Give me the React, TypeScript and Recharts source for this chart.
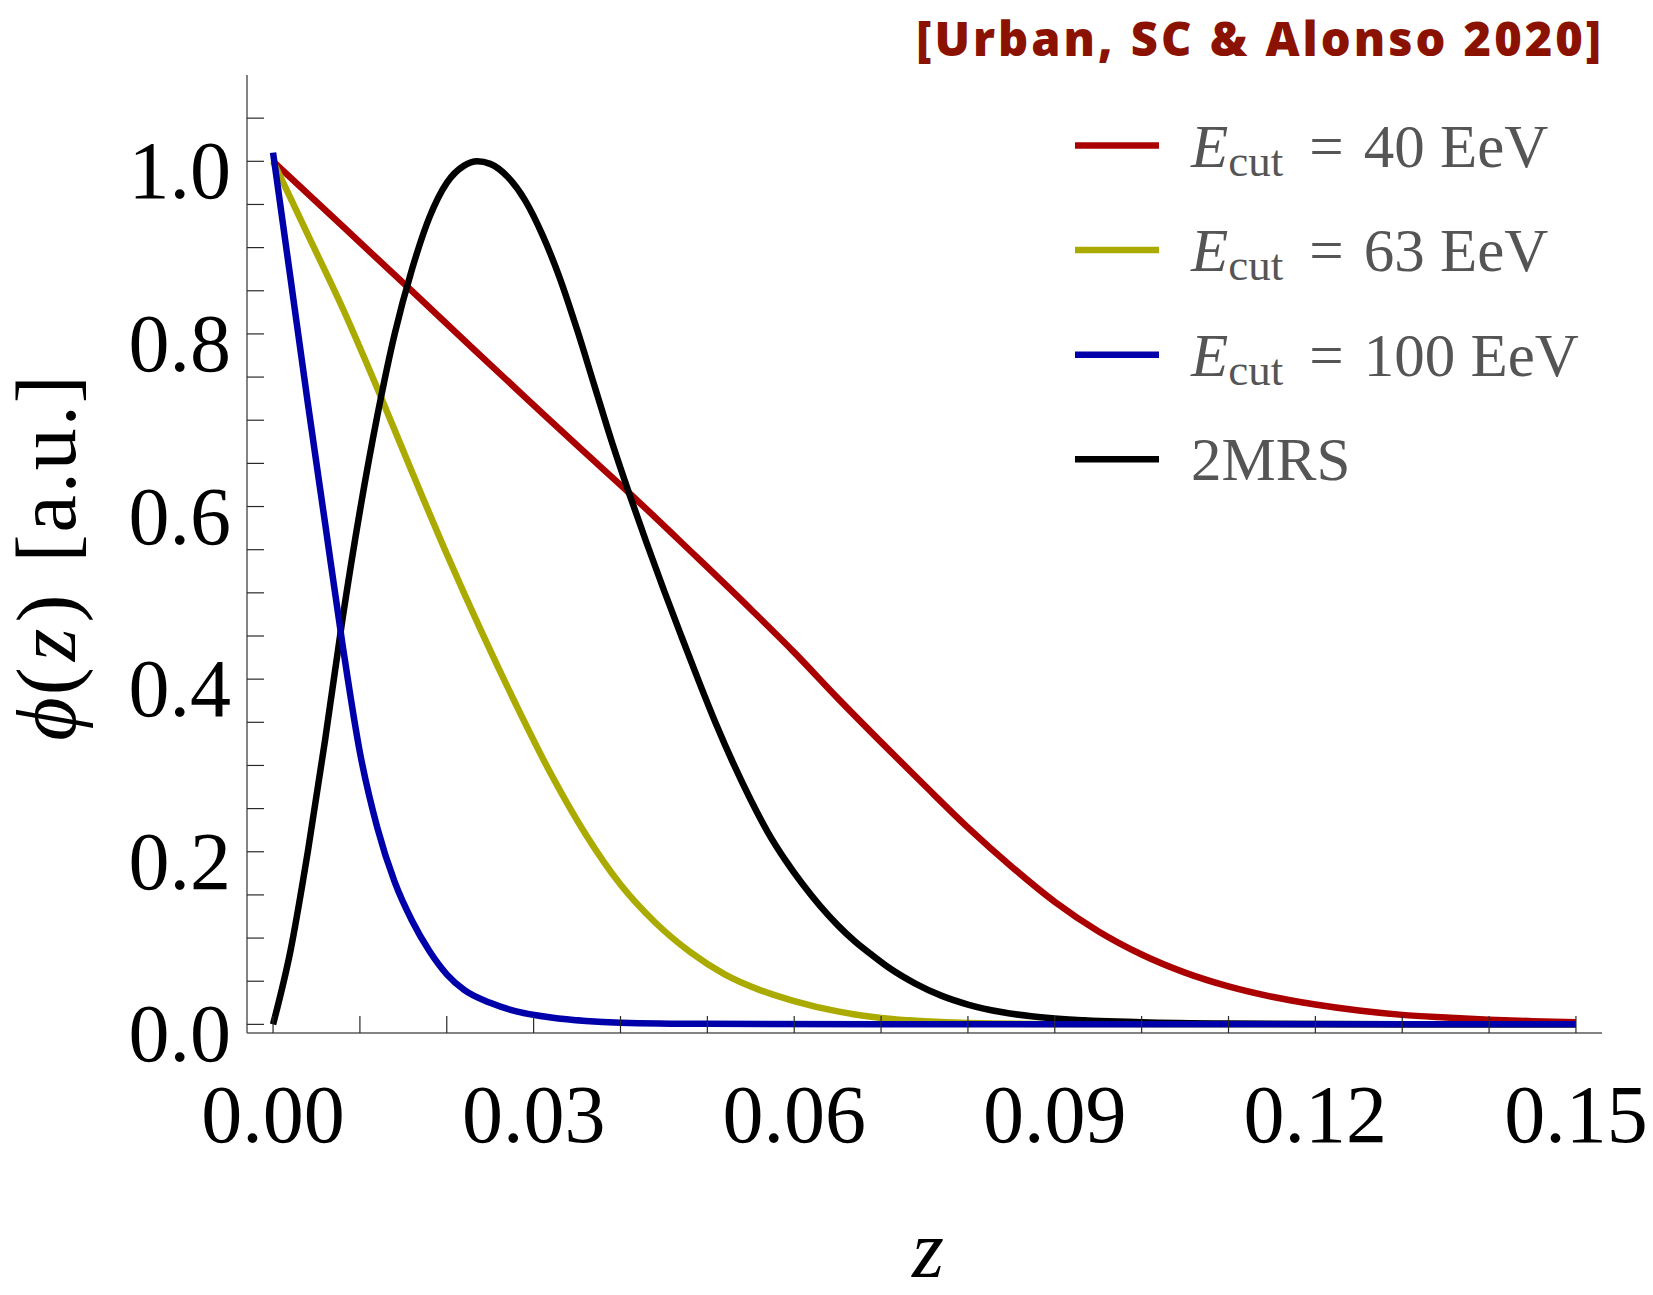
import React from "react";
import { LineChart, Line, XAxis, YAxis } from "recharts";

// ---- data ----
const RED_40: [number, number][] = [
  [0, 1.0], [0.0084, 0.921], [0.0168, 0.842], [0.0229, 0.784], [0.0291, 0.726],
  [0.0352, 0.669], [0.0413, 0.613], [0.0482, 0.547], [0.055, 0.481], [0.06, 0.431],
  [0.065, 0.378], [0.07, 0.327], [0.075, 0.277], [0.08, 0.228], [0.085, 0.183],
  [0.09, 0.142], [0.095, 0.108], [0.1, 0.081], [0.105, 0.06], [0.11, 0.044],
  [0.115, 0.032], [0.12, 0.023], [0.125, 0.016], [0.13, 0.011], [0.135, 0.008],
  [0.14, 0.0055], [0.145, 0.0037], [0.15, 0.0025],
];
const YELLOW_63: [number, number][] = [
  [0, 1.0], [0.004, 0.915], [0.008, 0.83], [0.012, 0.737], [0.016, 0.64],
  [0.02, 0.545], [0.024, 0.455], [0.028, 0.37], [0.032, 0.29], [0.036, 0.22],
  [0.04, 0.162], [0.044, 0.118], [0.048, 0.084], [0.052, 0.058], [0.056, 0.04],
  [0.06, 0.027], [0.065, 0.015], [0.07, 0.0075], [0.075, 0.0035], [0.08, 0.0015],
  [0.09, 0.0004], [0.15, 0],
];
const BLUE_100: [number, number][] = [
  [0, 1.01], [0.002, 0.865], [0.004, 0.72], [0.006, 0.58], [0.008, 0.44],
  [0.01, 0.315], [0.012, 0.228], [0.014, 0.165], [0.016, 0.12], [0.018, 0.085],
  [0.02, 0.058], [0.022, 0.04], [0.025, 0.025], [0.028, 0.015], [0.032, 0.008],
  [0.036, 0.004], [0.04, 0.002], [0.05, 0.0006], [0.07, 0.0001], [0.15, 0],
];
const BLACK_2MRS: [number, number][] = [
  [0, 0], [0.002, 0.085], [0.004, 0.2], [0.006, 0.33], [0.008, 0.47],
  [0.01, 0.595], [0.012, 0.705], [0.014, 0.8], [0.016, 0.875], [0.018, 0.935],
  [0.02, 0.975], [0.022, 0.995], [0.0235, 1.0], [0.025, 0.997], [0.027, 0.982],
  [0.029, 0.955], [0.031, 0.915], [0.033, 0.865], [0.035, 0.805], [0.037, 0.74],
  [0.039, 0.675], [0.041, 0.615], [0.043, 0.558], [0.045, 0.503], [0.047, 0.45],
  [0.049, 0.398], [0.051, 0.348], [0.053, 0.302], [0.055, 0.26], [0.057, 0.222],
  [0.059, 0.19], [0.061, 0.162], [0.063, 0.137], [0.065, 0.115], [0.067, 0.096],
  [0.069, 0.08], [0.071, 0.065], [0.074, 0.047], [0.077, 0.033], [0.08, 0.023],
  [0.084, 0.014], [0.09, 0.0068], [0.1, 0.0025], [0.11, 0.001], [0.13, 0.0002],
  [0.15, 0],
];

const X_TICKS = [0, 0.01, 0.02, 0.03, 0.04, 0.05, 0.06, 0.07, 0.08, 0.09, 0.1, 0.11, 0.12, 0.13, 0.14, 0.15];
const X_LABELS = ["0.00", "", "", "0.03", "", "", "0.06", "", "", "0.09", "", "", "0.12", "", "", "0.15"];
const Y_TICKS = [0, 0.05, 0.1, 0.15, 0.2, 0.25, 0.3, 0.35, 0.4, 0.45, 0.5, 0.55, 0.6, 0.65, 0.7, 0.75, 0.8, 0.85, 0.9, 0.95, 1.0, 1.05];
const Y_LABELS = ["0.0", "", "", "", "0.2", "", "", "", "0.4", "", "", "", "0.6", "", "", "", "0.8", "", "", "", "1.0", ""];

const SERIES = [
  { name: "40", data: RED_40, color: "#AA0000", label: "40 EeV" },
  { name: "63", data: YELLOW_63, color: "#AAAA00", label: "63 EeV" },
  { name: "2MRS", data: BLACK_2MRS, color: "#000000", label: "2MRS" },
  { name: "100", data: BLUE_100, color: "#0000AA", label: "100 EeV" },
];
const LEGEND_ORDER = ["40", "63", "100", "2MRS"];

const toRows = (arr: [number, number][]) => arr.map(([z, phi]) => ({ z, phi }));

const W = 1653;
const H = 1295;
const TICK_LEN = 17;
const TICK_COLOR = "#2a2a2a";
const FRAME_COLOR = "#5a5a5a";
const SERIF = "'Liberation Serif', 'DejaVu Serif', serif";
const LABEL_FS = 82;

const BottomTick = (props: any) => {
  const { x, y, index } = props;
  const lab = X_LABELS[index] ?? "";
  return (
    <g>
      <line x1={x} x2={x} y1={y} y2={y - TICK_LEN} stroke={TICK_COLOR} strokeWidth={1.2} />
      {lab && (
        <text x={x} y={y + 109} textAnchor="middle" fontFamily={SERIF} fontSize={LABEL_FS} fill="#000">
          {lab}
        </text>
      )}
    </g>
  );
};
const TopTick = (props: any) => {
  const { x, y } = props;
  return <line x1={x} x2={x} y1={y} y2={y + TICK_LEN} stroke={TICK_COLOR} strokeWidth={1.2} />;
};
const LeftTick = (props: any) => {
  const { x, y, index } = props;
  const lab = Y_LABELS[index] ?? "";
  return (
    <g>
      <line x1={x} x2={x + TICK_LEN} y1={y} y2={y} stroke={TICK_COLOR} strokeWidth={1.2} />
      {lab && (
        <text x={x - 16} y={y + 37} textAnchor="end" fontFamily={SERIF} fontSize={LABEL_FS} fill="#000">
          {lab}
        </text>
      )}
    </g>
  );
};
const RightTick = (props: any) => {
  const { x, y } = props;
  return <line x1={x} x2={x - TICK_LEN} y1={y} y2={y} stroke={TICK_COLOR} strokeWidth={1.2} />;
};

const LEG_X = 1075;
const LEG_Y0 = 145.5;
const LEG_DY = 104.6;

export default function App() {
  return (
    <div style={{ position: "absolute", left: 0, top: 0, width: W, height: H, background: "#fff" }}>
      <LineChart width={W} height={H} margin={{ top: 75, right: 51, left: 0, bottom: 0 }}>
        <XAxis
          xAxisId={0}
          type="number"
          dataKey="z"
          domain={[-0.003, 0.153]}
          ticks={X_TICKS}
          interval={0}
          allowDataOverflow
          height={262}
          tickSize={0}
          tickMargin={0}
          tickLine={false}
          axisLine={{ stroke: FRAME_COLOR, strokeWidth: 1.5 }}
          tick={<BottomTick />}
        />
        <XAxis
          xAxisId="top"
          orientation="top"
          type="number"
          dataKey="z"
          domain={[-0.003, 0.153]}
          ticks={X_TICKS}
          interval={0}
          allowDataOverflow
          height={0}
          tickSize={0}
          tickMargin={0}
          tickLine={false}
          axisLine={{ stroke: FRAME_COLOR, strokeWidth: 1.5 }}
          tick={<TopTick />}
        />
        <YAxis
          yAxisId={0}
          type="number"
          domain={[-0.01, 1.1]}
          ticks={Y_TICKS}
          interval={0}
          allowDataOverflow
          width={247}
          tickSize={0}
          tickMargin={0}
          tickLine={false}
          axisLine={{ stroke: FRAME_COLOR, strokeWidth: 1.5 }}
          tick={<LeftTick />}
        />
        <YAxis
          yAxisId="right"
          orientation="right"
          type="number"
          domain={[-0.01, 1.1]}
          ticks={Y_TICKS}
          interval={0}
          allowDataOverflow
          width={0}
          tickSize={0}
          tickMargin={0}
          tickLine={false}
          axisLine={{ stroke: FRAME_COLOR, strokeWidth: 1.5 }}
          tick={<RightTick />}
        />
        {SERIES.map((s) => (
          <Line
            key={s.name}
            xAxisId={0}
            yAxisId={0}
            data={toRows(s.data)}
            dataKey="phi"
            type="monotone"
            stroke={s.color}
            strokeWidth={6.5}
            dot={false}
            activeDot={false}
            isAnimationActive={false}
            strokeLinejoin="round"
          />
        ))}
      </LineChart>
      <svg
        width={W}
        height={H}
        style={{ position: "absolute", left: 0, top: 0, pointerEvents: "none" }}
      >
        <text
          x={1604}
          y={56}
          textAnchor="end"
          fontFamily="'Open Sans', 'Lato', sans-serif"
          fontWeight={800}
          fontSize={47}
          letterSpacing={3}
          fill="#8B1200"
        >
          [Urban, SC &amp; Alonso 2020]
        </text>
        {LEGEND_ORDER.map((key, i) => {
          const s = SERIES.find((q) => q.name === key)!;
          const y = LEG_Y0 + i * LEG_DY;
          return (
            <g key={key}>
              <line x1={LEG_X} x2={LEG_X + 84} y1={y} y2={y} stroke={s.color} strokeWidth={6.5} />
              {key === "2MRS" ? (
                <text x={1191} y={y + 21} fontFamily={SERIF} fontSize={61} fill="#555">
                  2MRS
                </text>
              ) : (
                <text x={1191} y={y + 21} fontFamily={SERIF} fontSize={61} fill="#555">
                  <tspan fontStyle="italic">E</tspan>
                  <tspan fontSize={45} dy={9}>cut</tspan>
                  <tspan dy={-9} dx={26}>=</tspan>
                  <tspan dx={20}>{s.label}</tspan>
                </text>
              )}
            </g>
          );
        })}
        <text
          transform="translate(75, 557) rotate(-90)"
          textAnchor="middle"
          fontFamily={SERIF}
          fontSize={84}
          letterSpacing={2}
          fill="#000"
        >
          <tspan fontStyle="italic">ϕ</tspan>
          <tspan>(</tspan>
          <tspan fontStyle="italic" dx={4}>z</tspan>
          <tspan dx={4}>)</tspan>
          <tspan dx={30}>[a.u.]</tspan>
        </text>
        <text x={928} y={1277} textAnchor="middle" fontFamily={SERIF} fontStyle="italic" fontSize={82} fill="#000">
          z
        </text>
      </svg>
    </div>
  );
}
